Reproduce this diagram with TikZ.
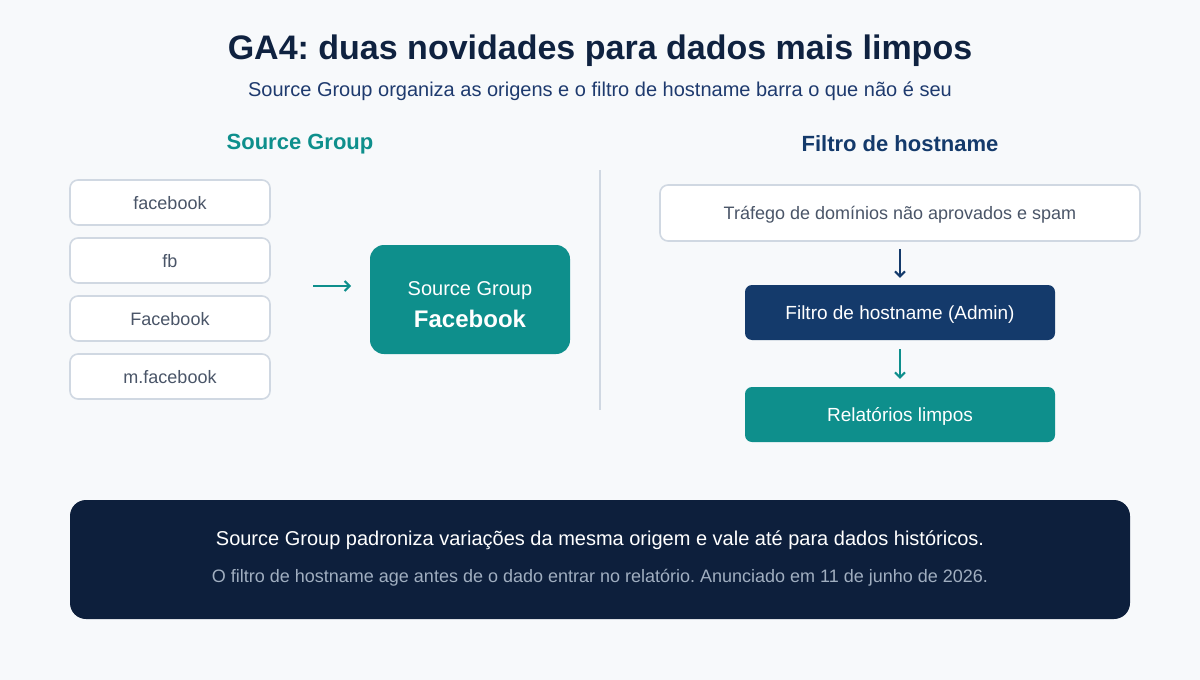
\documentclass[tikz,border=0pt]{standalone}
\usepackage{fontspec}
\setmainfont{Liberation Sans}
\usepackage{tikz}
\usetikzlibrary{arrows.meta,positioning}
\frenchspacing

\definecolor{pagebg}{HTML}{F7F9FB}
\definecolor{inkdark}{HTML}{0F2240}
\definecolor{inknavy}{HTML}{1E3A6E}
\definecolor{tealmain}{HTML}{0E8F8C}
\definecolor{navybox}{HTML}{143A6B}
\definecolor{edgegray}{HTML}{D0D8E2}
\definecolor{textgray}{HTML}{4A5568}
\definecolor{footbg}{HTML}{0D1F3C}
\definecolor{footgray}{HTML}{A0AEC0}

\newcommand{\fs}[1]{\fontsize{#1}{#1}\selectfont}

\tikzset{
  srcbox/.style={draw=edgegray, line width=1.6pt, fill=white, rounded corners=8pt,
    minimum width=200pt, minimum height=45pt, inner sep=0pt, text depth=0pt,
    text=textgray, font=\fs{18}},
  flowbox/.style={rounded corners=7pt, minimum width=310pt, minimum height=55pt,
    inner sep=0pt, text depth=0pt, text=white, font=\fs{19}},
  flowarrow/.style={-{Straight Barb[length=5pt,width=10pt]}, line width=2pt},
}

\begin{document}
\begin{tikzpicture}[x=1pt,y=-1pt]
% Background
\fill[pagebg] (0,0) rectangle (1200,680);
\useasboundingbox (0,0) rectangle (1200,680);

% Title
\node[font=\fs{34}\bfseries, text=inkdark] (title) at (600,51) {GA4: duas novidades para dados mais limpos};
\node[font=\fs{20}, text=inknavy] (subtitle) at (600,91) {Source Group organiza as origens e o filtro de hostname barra o que não é seu};

% Column heads
\node[font=\fs{22}\bfseries, text=tealmain] (headleft) at (300,144) {Source Group};
\node[font=\fs{22}\bfseries, text=navybox] (headright) at (900,144) {Filtro de hostname};

% Source Group: variants
\node[srcbox] (fbone) at (170,202.5) {facebook};
\node[srcbox, below=11.4pt of fbone] (fbtwo) {fb};
\node[srcbox, below=11.4pt of fbtwo] (fbthree) {Facebook};
\node[srcbox, below=11.4pt of fbthree] (fbfour) {m.facebook};

\node[fill=tealmain, rounded corners=14pt, minimum width=200pt, minimum height=109pt,
  inner sep=0pt] (group) at (470,299.5) {};
\node[font=\fs{20}, text=white] (grouptop) at (470,290.5) {Source Group};
\node[font=\fs{24}\bfseries, text=white] (groupname) at (470,319) {Facebook};

\coordinate (arrowfrom) at (313,286);
\coordinate (arrowto) at (351,286);
\draw[flowarrow, tealmain] (arrowfrom) -- (arrowto);

% Divider
\draw[edgegray, line width=1.5pt] (600,170) -- (600,410);

% Hostname filter
\node[draw=edgegray, line width=1.6pt, fill=white, rounded corners=8pt, minimum width=480pt,
  minimum height=56pt, inner sep=0pt, text depth=0pt, text=textgray, font=\fs{18}] (traffic)
  at (900,213) {Tráfego de domínios não aprovados e spam};
\node[flowbox, fill=navybox] (filter) at (900,312.5) {Filtro de hostname (Admin)};
\node[flowbox, fill=tealmain] (reports) at (900,414.5) {Relatórios limpos};

\draw[flowarrow, navybox, shorten <=7pt, shorten >=7pt] (traffic) -- (filter);
\draw[flowarrow, tealmain, shorten <=9pt, shorten >=8pt] (filter) -- (reports);

% Footer
\node[fill=footbg, rounded corners=16pt, minimum width=1060pt, minimum height=119pt,
  inner sep=0pt] (footer) at (600,559.5) {};
\node[font=\fs{20}, text=white] (footone) at (600,540) {Source Group padroniza variações da mesma origem e vale até para dados históricos.};
\node[font=\fs{18}, text=footgray] (foottwo) at (600,578) {O filtro de hostname age antes de o dado entrar no relatório. Anunciado em 11 de junho de 2026.};
\end{tikzpicture}
\end{document}
